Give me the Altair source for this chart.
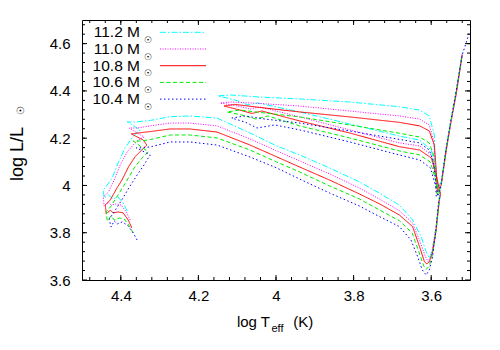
import altair as alt
import pandas as pd
import numpy as np

FONT = "Liberation Sans"

masses = ["11.2", "11.0", "10.8", "10.6", "10.4"]
colors = ["#00ffff", "#ff00ff", "#ff0000", "#00ee00", "#0000ff"]
dashes = [[6, 2, 1.5, 2], [1, 1.5], [1, 0], [4, 2.5], [1.5, 2.5]]

x_major = [4.4, 4.2, 4.0, 3.8, 3.6]
y_major = [3.6, 3.8, 4.0, 4.2, 4.4, 4.6]

# (log Teff, log L/Lsun) along each track
track_112 = [
    (4.3835, 3.892), (4.394, 3.926), (4.407, 3.951), (4.420, 3.943), (4.432, 3.960),
    (4.443, 3.947), (4.445, 3.981), (4.435, 4.002), (4.422, 4.032), (4.407, 4.095),
    (4.389, 4.159), (4.371, 4.201), (4.358, 4.226), (4.350, 4.235), (4.3835, 4.2685),
    (4.363, 4.2685), (4.324, 4.275), (4.273, 4.291), (4.222, 4.294), (4.152, 4.285),
    (4.067, 4.222), (3.998, 4.167), (3.939, 4.129), (3.862, 4.074), (3.785, 4.015),
    (3.733, 3.967), (3.682, 3.917), (3.648, 3.854), (3.626, 3.783), (3.613, 3.720),
    (3.605, 3.693), (3.597, 3.727), (3.587, 3.829), (3.579, 3.939), (3.576, 3.981),
    (3.587, 4.032), (3.5995, 4.150), (3.630, 4.192), (3.682, 4.209), (3.810, 4.260),
    (3.939, 4.311), (4.047, 4.349), (4.0725, 4.3405), (4.106, 4.362), (4.150, 4.379),
    (4.119, 4.383), (4.042, 4.374), (3.939, 4.366), (3.810, 4.353), (3.682, 4.333),
    (3.630, 4.319), (3.605, 4.294), (3.592, 4.2135), (3.589, 4.087), (3.584, 3.994),
    (3.574, 4.015), (3.561, 4.159), (3.548, 4.285), (3.535, 4.400), (3.520, 4.565),
]

track_110 = [
    (4.376, 3.854), (4.386, 3.888), (4.399, 3.917), (4.412, 3.922), (4.4247, 3.917),
    (4.432, 3.930), (4.443, 3.913), (4.445, 3.951), (4.432, 3.972), (4.417, 4.023),
    (4.4015, 4.087), (4.3835, 4.142), (4.3655, 4.176), (4.350, 4.197), (4.340, 4.205),
    (4.3784, 4.243), (4.358, 4.243), (4.324, 4.252), (4.273, 4.264), (4.222, 4.264),
    (4.152, 4.252), (4.067, 4.197), (3.998, 4.146), (3.939, 4.104), (3.862, 4.049),
    (3.785, 3.989), (3.733, 3.942), (3.682, 3.893), (3.648, 3.841), (3.6285, 3.762),
    (3.615, 3.699), (3.608, 3.678), (3.5995, 3.706), (3.588, 3.820), (3.579, 3.939),
    (3.576, 3.972), (3.587, 4.023), (3.5995, 4.129), (3.630, 4.167), (3.682, 4.180),
    (3.810, 4.235), (3.939, 4.290), (4.042, 4.332), (4.067, 4.3235), (4.098, 4.336),
    (4.144, 4.349), (4.114, 4.353), (4.042, 4.347), (3.939, 4.336), (3.810, 4.315),
    (3.682, 4.294), (3.630, 4.281), (3.605, 4.256), (3.594, 4.192), (3.589, 4.074),
    (3.585, 3.985), (3.574, 4.010), (3.561, 4.154), (3.548, 4.281), (3.535, 4.395),
    (3.520, 4.556),
]

track_108 = [
    (4.3714, 3.820), (4.381, 3.854), (4.394, 3.884), (4.407, 3.888), (4.420, 3.884),
    (4.427, 3.896), (4.4375, 3.879), (4.440, 3.917), (4.427, 3.939), (4.410, 3.989),
    (4.397, 4.023), (4.380, 4.079), (4.363, 4.122), (4.346, 4.150), (4.333, 4.171),
    (4.342, 4.192), (4.373, 4.218), (4.355, 4.222), (4.324, 4.228), (4.273, 4.239),
    (4.222, 4.239), (4.152, 4.226), (4.067, 4.171), (3.998, 4.121), (3.939, 4.078),
    (3.862, 4.023), (3.785, 3.964), (3.733, 3.922), (3.682, 3.875), (3.648, 3.826),
    (3.630, 3.741), (3.6175, 3.678), (3.6115, 3.668), (3.605, 3.676), (3.597, 3.714),
    (3.587, 3.812), (3.579, 3.939), (3.576, 3.960), (3.587, 4.044), (3.5995, 4.116),
    (3.630, 4.150), (3.682, 4.164), (3.810, 4.222), (3.939, 4.273), (4.0365, 4.315),
    (4.062, 4.3045), (4.093, 4.319), (4.134, 4.336), (4.106, 4.343), (4.042, 4.330),
    (3.939, 4.311), (3.810, 4.290), (3.682, 4.267), (3.630, 4.252), (3.605, 4.231),
    (3.592, 4.171), (3.587, 4.066), (3.584, 3.972), (3.574, 4.002), (3.561, 4.150),
    (3.548, 4.277), (3.535, 4.391), (3.520, 4.552),
]

track_106 = [
    (4.368, 3.799), (4.378, 3.829), (4.391, 3.858), (4.404, 3.862), (4.417, 3.854),
    (4.425, 3.871), (4.435, 3.850), (4.4375, 3.888), (4.425, 3.913), (4.404, 3.968),
    (4.3835, 4.023), (4.3655, 4.074), (4.348, 4.112), (4.335, 4.133), (4.3295, 4.142),
    (4.368, 4.188), (4.350, 4.188), (4.324, 4.194), (4.273, 4.2135), (4.222, 4.2135),
    (4.152, 4.201), (4.067, 4.150), (3.998, 4.099), (3.939, 4.057), (3.862, 3.998),
    (3.785, 3.943), (3.733, 3.896), (3.682, 3.851), (3.649, 3.799), (3.632, 3.720),
    (3.619, 3.659), (3.613, 3.645), (3.605, 3.659), (3.597, 3.706), (3.588, 3.803),
    (3.580, 3.930), (3.5776, 3.955), (3.587, 4.015), (3.602, 4.099), (3.630, 4.129),
    (3.682, 4.146), (3.810, 4.201), (3.939, 4.252), (4.021, 4.294), (4.052, 4.281),
    (4.088, 4.298), (4.1265, 4.311), (4.093, 4.319), (4.042, 4.309), (3.939, 4.290),
    (3.810, 4.256), (3.682, 4.221), (3.630, 4.205), (3.605, 4.180), (3.594, 4.129),
    (3.589, 4.044), (3.585, 3.964), (3.575, 3.994), (3.562, 4.146), (3.549, 4.273),
    (3.5365, 4.387), (3.521, 4.548),
]

track_104 = [
    (4.358, 3.769), (4.368, 3.799), (4.381, 3.829), (4.396, 3.846), (4.409, 3.837),
    (4.417, 3.850), (4.425, 3.824), (4.430, 3.858), (4.417, 3.888), (4.396, 3.943),
    (4.376, 3.998), (4.358, 4.044), (4.342, 4.082), (4.3295, 4.116), (4.324, 4.129),
    (4.360, 4.159), (4.342, 4.159), (4.319, 4.165), (4.273, 4.184), (4.222, 4.184),
    (4.152, 4.171), (4.067, 4.1205), (3.998, 4.074), (3.939, 4.027), (3.862, 3.968),
    (3.785, 3.913), (3.733, 3.868), (3.682, 3.826), (3.652, 3.769), (3.635, 3.699),
    (3.623, 3.6425), (3.613, 3.621), (3.605, 3.6425), (3.597, 3.693), (3.589, 3.795),
    (3.5815, 3.922), (3.579, 3.947), (3.587, 3.989), (3.602, 4.074), (3.630, 4.108),
    (3.682, 4.129), (3.810, 4.184), (3.939, 4.235), (4.003, 4.256), (4.049, 4.243),
    (4.080, 4.2685), (4.114, 4.285), (4.080, 4.294), (4.029, 4.281), (3.939, 4.264),
    (3.810, 4.2305), (3.682, 4.195), (3.630, 4.180), (3.605, 4.150), (3.594, 4.099),
    (3.589, 4.023), (3.587, 3.951), (3.576, 3.985), (3.5635, 4.137), (3.5506, 4.264),
    (3.538, 4.379), (3.520, 4.552), (3.502, 4.645),
]

tracks = [track_112, track_110, track_108, track_106, track_104]

W, H = 388, 260

rows = []
for m, tr in zip(masses, tracks):
    for i, (t, l) in enumerate(tr):
        rows.append({"mass": m, "i": i, "T": t, "L": l})
df = pd.DataFrame(rows)

xs = alt.Scale(domain=[3.5, 4.5], reverse=True, nice=False, zero=False)
ys = alt.Scale(domain=[3.6, 4.7], nice=False, zero=False)

axis_common = dict(title=None, ticks=False, domain=False, grid=False,
                   labelFont=FONT, labelFontSize=15, labelColor="black", format="~g")
x_axis = alt.Axis(values=x_major, labelPadding=8, **axis_common)
y_axis = alt.Axis(values=y_major, labelPadding=12, **axis_common)

lines = alt.Chart(df).mark_line(strokeWidth=1, clip=True).encode(
    x=alt.X("T:Q", scale=xs, axis=x_axis),
    y=alt.Y("L:Q", scale=ys, axis=y_axis),
    color=alt.Color("mass:N", scale=alt.Scale(domain=masses, range=colors), legend=None),
    strokeDash=alt.StrokeDash("mass:N", scale=alt.Scale(domain=masses, range=dashes), legend=None),
    detail="mass:N",
    order="i:Q",
)

x_minor = list(np.round(np.arange(3.52, 4.49, 0.04), 2))
y_minor = list(np.round(np.arange(3.64, 4.69, 0.04), 2))


def xticks(vals, length):
    d = pd.DataFrame({"T": vals})
    bot = alt.Chart(d).mark_rule(color="black", strokeWidth=1).encode(
        x=alt.X("T:Q", scale=xs, axis=x_axis), y=alt.value(H), y2=alt.value(H - length))
    top = alt.Chart(d).mark_rule(color="black", strokeWidth=1).encode(
        x=alt.X("T:Q", scale=xs, axis=x_axis), y=alt.value(0), y2=alt.value(length))
    return [bot, top]


def yticks(vals, length):
    d = pd.DataFrame({"L": vals})
    left = alt.Chart(d).mark_rule(color="black", strokeWidth=1).encode(
        y=alt.Y("L:Q", scale=ys, axis=y_axis), x=alt.value(0), x2=alt.value(length))
    right = alt.Chart(d).mark_rule(color="black", strokeWidth=1).encode(
        y=alt.Y("L:Q", scale=ys, axis=y_axis), x=alt.value(W), x2=alt.value(W - length))
    return [left, right]


tick_layers = xticks(x_major, 5) + xticks(x_minor, 3) + yticks(y_major, 5) + yticks(y_minor, 3)


def text(t, x, y, size=15, align="left", baseline="alphabetic", angle=0):
    return alt.Chart(pd.DataFrame({"t": [t]})).mark_text(
        font=FONT, fontSize=size, align=align, baseline=baseline, angle=angle, color="black"
    ).encode(x=alt.value(x), y=alt.value(y), text="t:N")


legend_layers = []
for i, (m, c, d) in enumerate(zip(masses, colors, dashes)):
    ry = 12.3 + 16.7 * i
    legend_layers.append(text(f"{m} M", 58, ry, size=15.5, align="right", baseline="middle"))
    legend_layers.append(text("\u2609", 65.5, ry + 7.5, size=9, align="center", baseline="middle"))
    legend_layers.append(
        alt.Chart(pd.DataFrame({"m": [m]})).mark_rule(color=c, strokeDash=d, strokeWidth=1)
        .encode(x=alt.value(78), x2=alt.value(124), y=alt.value(ry))
    )

title_layers = [
    text("log T", 188, 306.5, align="right"),
    text("eff", 189.5, 311.5, size=11),
    text("(K)", 211.3, 306.5),
    text("log L/L", -59, 161, size=18, angle=270),
    text("\u2609", -61, 90, size=10, align="center", baseline="middle", angle=270),
]

chart = alt.layer(lines, *tick_layers, *legend_layers, *title_layers).properties(
    width=W, height=H,
    autosize=alt.AutoSizeParams(type="none"),
    padding={"left": 74, "top": 12, "right": 22, "bottom": 62},
).configure_view(stroke="black", strokeWidth=1)

chart.save("out.html", embed_options={"renderer": "svg", "actions": False})
